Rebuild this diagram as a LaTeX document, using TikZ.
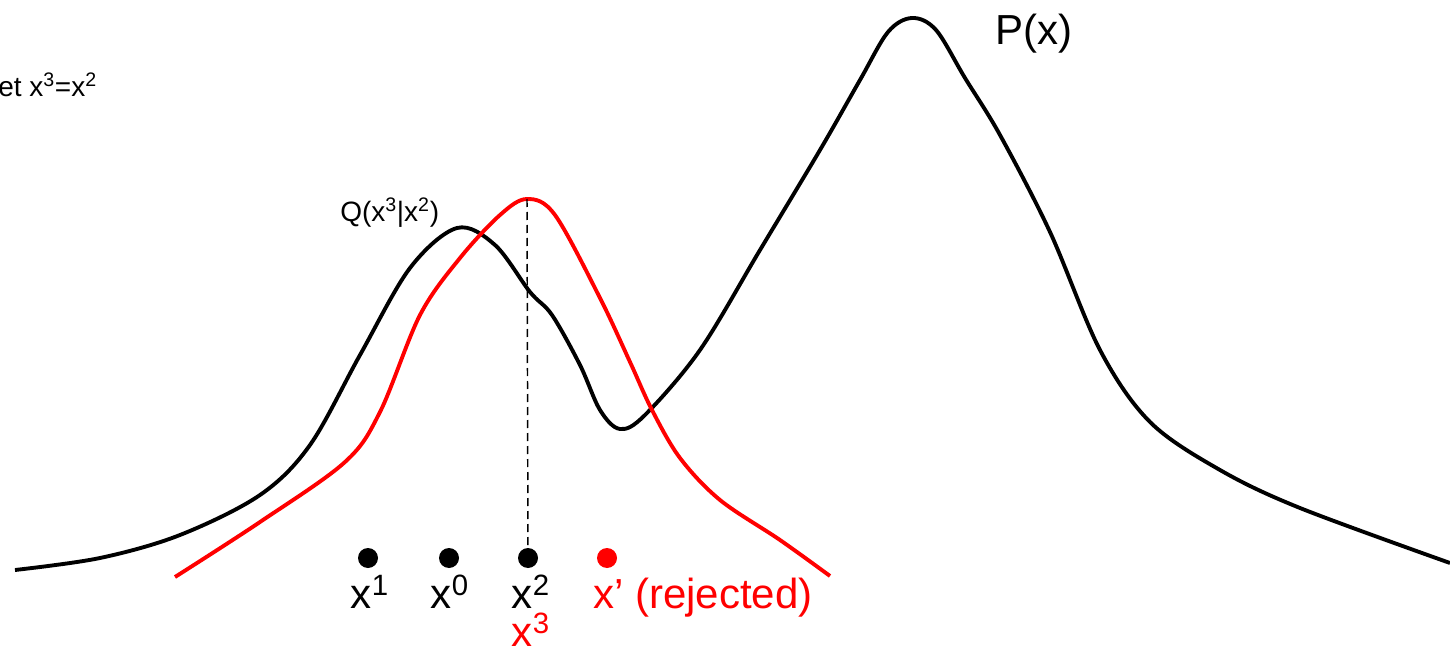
\documentclass[tikz,border=0pt]{standalone}
\usepackage{fontspec}
\setmainfont{Liberation Sans}
\definecolor{rej}{RGB}{255,0,0}
\begin{document}
\begin{tikzpicture}[x=0.75pt,y=-0.75pt,
  curve/.style={line width=2.9pt,line join=round},
  dot/.style={circle,fill,inner sep=0pt,minimum size=15pt},
  big/.style={inner sep=0pt,font=\fontsize{31.5}{36}\selectfont},
  small/.style={inner sep=0pt,font=\fontsize{21}{25}\selectfont}]
\useasboundingbox (0,0) rectangle (1450,649);
% P(x)
\draw[curve,black] plot[smooth,tension=0.55] coordinates {
 (15,570) (100,558) (180,535) (260,495) (310,445) (360,355) (410,268)
 (457,228) (495,245) (530,292) (552,315) (580,365) (600,410) (620,429)
 (645,415) (700,350) (760,250) (820,150) (860,80) (888,32) (912,18)
 (936,30) (965,78) (1000,135)
 (1050,232) (1100,350) (1150,422) (1220,470) (1300,508) (1450,563)};
% Q
\draw[curve,rej] plot[smooth,tension=0.55] coordinates {
 (175,577) (260,522) (345,462) (380,412) (420,315) (460,258) (500,215)
 (527,199) (555,215) (600,298) (630,362) (652,410) (680,458) (720,500)
 (780,540) (830,576)};
\coordinate (qpeak) at (527,199);
\node[dot] (d1) at (368,558) {};
\node[dot] (d0) at (449,558) {};
\node[dot] (d2) at (528,558) {};
\node[dot,rej] (dr) at (607,558) {};
\draw[line width=1.1pt,dash pattern=on 6pt off 3.75pt] (qpeak) -- (d2);
\node[big,anchor=base] (l1) at (370,608) {x\textsuperscript{1}};
\node[big,anchor=base] (l0) at (450,608) {x\textsuperscript{0}};
\node[big,anchor=base] (l2) at (531,608) {x\textsuperscript{2}};
\node[big,anchor=base,text=rej] (l3) at (531,646) {x\textsuperscript{3}};
\node[big,anchor=base west,text=rej] (lr) at (593,608) {x’ (rejected)};
\node[big,anchor=base west] (px) at (995,45) {P(x)};
\node[small,anchor=base west] (q) at (340,222) {Q(x\textsuperscript{3}|x\textsuperscript{2})};
\node[small,anchor=base west] (set) at (-2,97) {et x\textsuperscript{3}=x\textsuperscript{2}};
\end{tikzpicture}
\end{document}
